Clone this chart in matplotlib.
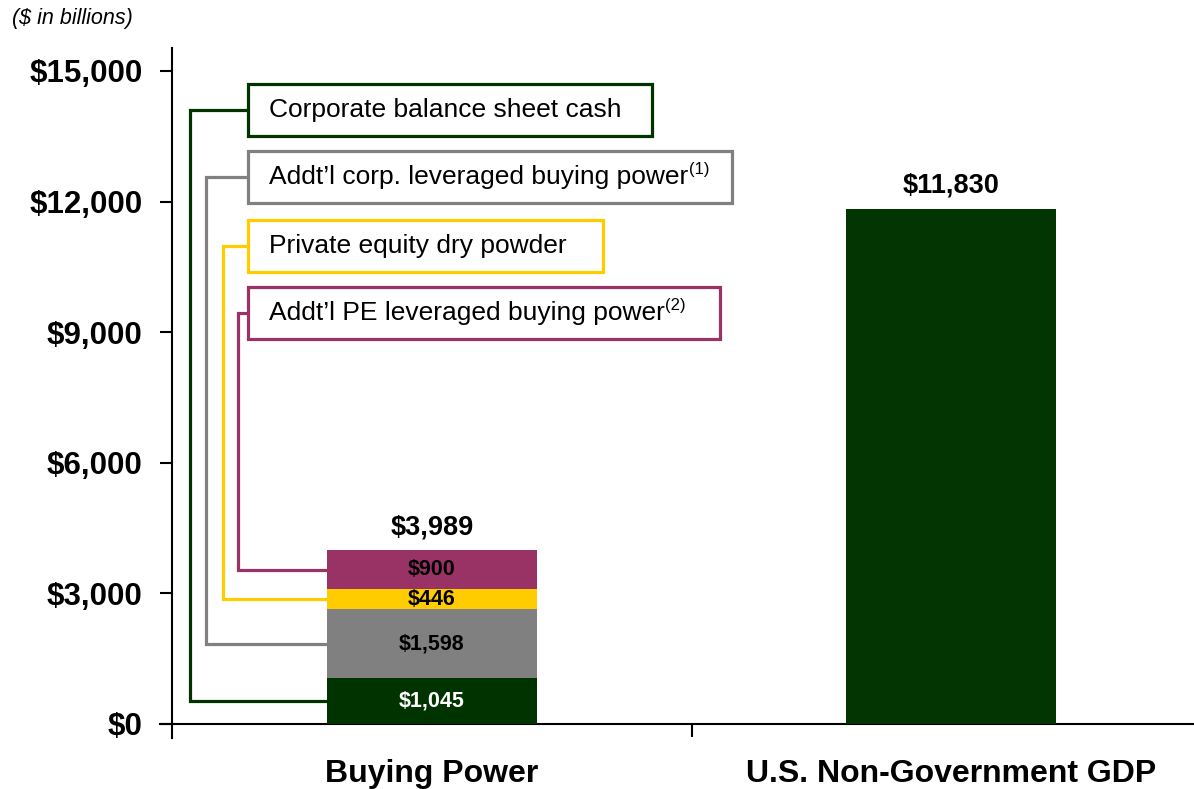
import numpy as np
import matplotlib
matplotlib.use("Agg")
import matplotlib.pyplot as plt
from matplotlib.patches import Rectangle

#-------------------#
# Font
#-------------------#
plt.rcParams['font.family'] = ['Liberation Sans', 'DejaVu Sans']

#-------------------#
# Data ($ in billions)
#-------------------#
categories = ["Buying Power", "U.S. Non-Government GDP"]
segment_names = ["Corporate balance sheet cash",
                 "Addt\u2019l corp. leveraged buying power",
                 "Private equity dry powder",
                 "Addt\u2019l PE leveraged buying power"]
segment_notes = ["", "(1)", "", "(2)"]
segment_values = [1045, 1598, 446, 900]
buying_power_total = 3989
gdp_value = 11830
yticks = [0, 3000, 6000, 9000, 12000, 15000]

#-------------------#
# Style
#-------------------#
seg_colors = ["#003300", "#808080", "#FFCC00", "#993366"]
seg_text_colors = ["white", "black", "black", "black"]
gdp_color = "#033503"
bar_w = 0.404

fig = plt.figure(figsize=(11.94, 7.89), dpi=100)
ax = fig.add_axes([0.144, 0.0824, 0.856, 0.857])
ax.set_xlim(-0.5, 1.467)
ax.set_ylim(0, 15530)

# stacked bar
bottoms = np.concatenate([[0], np.cumsum(segment_values)[:-1]])
for v, b, c, tc in zip(segment_values, bottoms, seg_colors, seg_text_colors):
    ax.bar(0, v, bottom=b, width=bar_w, color=c, linewidth=0, zorder=3)
    ax.text(0, b + v / 2, "${:,}".format(v), ha='center', va='center',
            fontsize=15.5, fontweight='bold', color=tc, zorder=4)

# GDP bar
ax.bar(1, gdp_value, width=bar_w, color=gdp_color, linewidth=0, zorder=3)

# totals above the bars
for x, tot in [(0, buying_power_total), (1, gdp_value)]:
    ax.annotate("${:,}".format(tot), xy=(x, tot), xytext=(0, 10),
                textcoords='offset pixels', ha='center', va='bottom',
                fontsize=19.5, fontweight='bold')

#-------------------#
# Legend boxes with connectors
#-------------------#
box_left = -0.354
box_rights = [0.423, 0.577, 0.329, 0.554]
box_centers = [14105, 12566, 10980, 9441]
box_half_h = 605
elbow_x = [-0.465, -0.435, -0.402, -0.373]
mids = bottoms + np.array(segment_values) / 2
for name, note, c, r, yc, ex, ym in zip(segment_names, segment_notes,
                                        seg_colors, box_rights, box_centers,
                                        elbow_x, mids):
    ax.add_patch(Rectangle((box_left, yc - box_half_h), r - box_left,
                           2 * box_half_h, facecolor='white', edgecolor=c,
                           linewidth=2.3, zorder=5))
    ax.plot([box_left, ex, ex, -bar_w / 2], [yc, yc, ym, ym], color=c,
            linewidth=2.3, solid_joinstyle='miter', zorder=2)
    t = ax.text(box_left + 0.04, yc, name, ha='left', va='center',
                fontsize=19, zorder=6)
    if note:
        ax.annotate(note, xy=(1, 0.82), xycoords=t, xytext=(1, 0),
                    textcoords='offset pixels', ha='left', va='center',
                    fontsize=12, zorder=6)

#-------------------#
# Axes
#-------------------#
for s in ['top', 'right']:
    ax.spines[s].set_visible(False)
ax.spines['left'].set_linewidth(1.5)
ax.spines['bottom'].set_linewidth(1.5)
ax.spines['bottom'].set_bounds(-0.523, 1.467)
ax.spines['left'].set_bounds(-330, 15530)

ax.set_yticks(yticks)
ax.set_yticklabels(["${:,}".format(t) for t in yticks], fontsize=22.5,
                   fontweight='bold')
ax.tick_params(axis='y', length=9, width=1.5, pad=12)

ax.set_xticks([0.5])
ax.set_xticklabels([""])
ax.tick_params(axis='x', length=9, width=1.5)
for i, cat in enumerate(categories):
    ax.annotate(cat, xy=(i, 0), xytext=(0, -50), textcoords='offset pixels',
                ha='center', va='center', fontsize=23, fontweight='bold',
                annotation_clip=False)

fig.text(0.01, 0.977, "($ in billions)", fontsize=15.5, fontstyle='italic',
         ha='left', va='center')

fig.savefig("out.png", dpi=100)
